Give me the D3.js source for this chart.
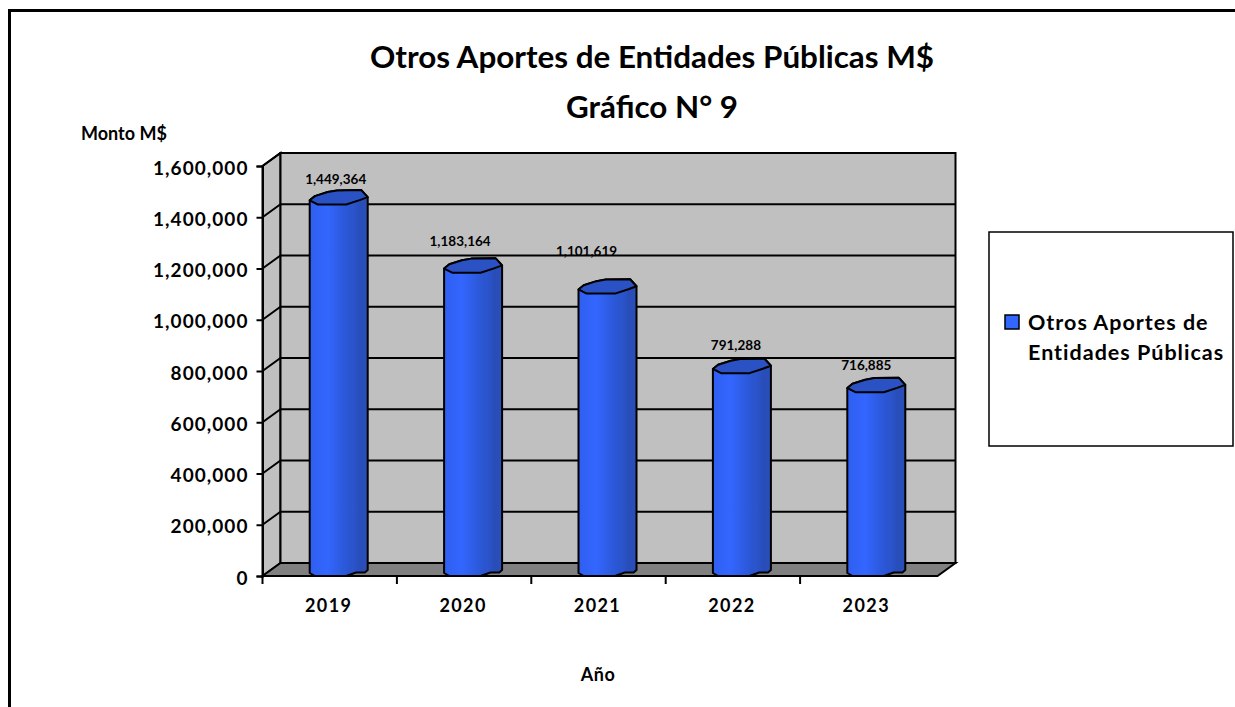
<!DOCTYPE html>
<html><head><meta charset="utf-8">
<script src="https://cdnjs.cloudflare.com/ajax/libs/d3/7.8.5/d3.min.js"></script>
<style>html,body{margin:0;padding:0;background:#fff}svg{display:block}
text{font-family:Lato,"Open Sans",sans-serif;font-weight:700;fill:#000}</style>
</head><body><svg id="c" width="1235" height="707"></svg>
<script>
const categories=["2019","2020","2021","2022","2023"];
const values=[1449364,1183164,1101619,791288,716885];
const valueLabels=["1,449,364","1,183,164","1,101,619","791,288","716,885"];
const yTicks=[0,200000,400000,600000,800000,1000000,1200000,1400000,1600000];
const titleLines=["Otros Aportes de Entidades Públicas M$","Gráfico N° 9"];
const legendLines=["Otros Aportes de","Entidades Públicas"];
const labelShiftX=[-3,-13,-21,-6,-10];
const labelRise=[6,12,23,9,8];

const svg=d3.select("#c");
const L=262.5,R=937.5,B=576,T=166,dx=18,dy=13;
const x=d3.scaleBand().domain(categories).range([L,L+672]);
const y=d3.scaleLinear().domain([0,1600000]).range([B,T]);

const defs=svg.append("defs");
const g=defs.append("linearGradient").attr("id","cyl");
[[0,"#2f5ff0"],[.3,"#3366ff"],[.55,"#2d5be0"],[.72,"#2a54cc"],[.73,"#2c55cf"],[.88,"#284db8"],[1,"#2a4fb8"]]
 .forEach(([o,c])=>g.append("stop").attr("offset",o).attr("stop-color",c));

svg.append("path").attr("d","M9.5,707V10.5H1235").attr("fill","none").attr("stroke","#000").attr("stroke-width",3);

const line=(a)=>"M"+a.map(p=>p.join(",")).join("L");
svg.append("path").attr("d",line([[L,T],[L+dx,T-dy],[L+dx,B-dy],[L,B]])+"Z").attr("fill","#c0c0c0").attr("stroke","#000").attr("stroke-width",2);
svg.append("path").attr("d",line([[L+dx,T-dy],[R+dx,T-dy],[R+dx,B-dy],[L+dx,B-dy]])+"Z").attr("fill","#c0c0c0").attr("stroke","#000").attr("stroke-width",2);
svg.append("path").attr("d",line([[L,B],[L+dx,B-dy],[R+dx,B-dy],[R,B]])+"Z").attr("fill","#808080").attr("stroke","#000").attr("stroke-width",2);

svg.append("g").selectAll("path").data(yTicks.slice(1)).join("path")
 .attr("d",d=>line([[L,y(d)],[L+dx,y(d)-dy],[R+dx,y(d)-dy]]))
 .attr("fill","none").attr("stroke","#000").attr("stroke-width",2);

const ay=svg.append("g").attr("transform",`translate(${L},0)`).call(d3.axisLeft(y).tickValues(yTicks).tickFormat(d3.format(",")).tickSize(6).tickPadding(8));
const ax=svg.append("g").attr("transform",`translate(0,${B})`).call(d3.axisBottom(x).tickSize(0));
ax.selectAll(".domain").remove();
ay.selectAll(".domain").attr("stroke","#000").attr("stroke-width",2);
ay.selectAll("line").attr("stroke","#000").attr("stroke-width",2);
ay.selectAll("text").attr("dy","0.43em").style("font-size","19px").style("letter-spacing","1.05px");
ax.selectAll("text").attr("dx",-1).attr("y",36).attr("dy",0).style("font-size","18px").style("letter-spacing","1.4px");
svg.append("g").selectAll("line").data(x.domain().map(d=>x(d))).join("line")
 .attr("x1",d=>d).attr("x2",d=>d).attr("y1",B).attr("y2",B+8).attr("stroke","#000").attr("stroke-width",2);

const capTop=[[0,.68],[.09,.4],[.31,.13],[.47,.02],[.89,0],[1,.47]];
const capBottom=[[1,.47],[.86,.67],[.63,.96],[.14,.96],[0,.68]];
const baseEdge=[[1,-6],[.95,-3.5],[.8,-3.5],[.63,0],[.09,0],[0,-3]];
const bw=58, capH=15;
const rows=categories.map((c,i)=>({c,v:values[i],l:valueLabels[i],sx:labelShiftX[i],r:labelRise[i]}));
svg.append("g").selectAll("g").data(rows).join("g").each(function(d){
  const sel=d3.select(this);
  const x0=x(d.c)+x.bandwidth()/2+dx/2-bw/2;
  const top=y(d.v)-capH+.5;
  const pt=(p)=>[x0+p[0]*bw,top+p[1]*capH];
  const ptBase=(p)=>[x0+p[0]*bw,B+p[1]];
  sel.append("path").attr("d",line(capTop.map(pt).concat(baseEdge.map(ptBase)))+"Z").attr("fill","url(#cyl)").attr("stroke","#000").attr("stroke-width",2).attr("stroke-linejoin","round");
  sel.append("path").attr("d",line([...capTop,...capBottom.slice(1)].map(pt))+"Z").attr("fill","#2a52c4").attr("stroke","#000").attr("stroke-width",2).attr("stroke-linejoin","round");
  sel.append("text").attr("x",x0+bw/2+d.sx).attr("y",top-d.r).attr("text-anchor","middle")
    .style("font-size","13.5px").text(d.l);
});

svg.append("g").selectAll("text").data(titleLines).join("text").attr("x",652).attr("y",(d,i)=>68+i*50)
 .attr("text-anchor","middle").style("font-size","31.4px").text(d=>d);
svg.append("text").attr("x",81).attr("y",140).style("font-size","18px").text("Monto M$");
svg.append("text").attr("x",598).attr("y",681).attr("text-anchor","middle").style("font-size","18px").style("letter-spacing","0.5px").text("Año");

svg.append("rect").attr("x",989).attr("y",232).attr("width",244).attr("height",214).attr("fill","#fff").attr("stroke","#000").attr("stroke-width",1.5);
svg.append("rect").attr("x",1005).attr("y",315).attr("width",14).attr("height",14).attr("fill","#3366ff").attr("stroke","#000").attr("stroke-width",1.5);
svg.append("g").selectAll("text").data(legendLines).join("text").attr("x",1028).attr("y",(d,i)=>330+i*30)
 .style("font-size","21.5px").style("letter-spacing","1px").text(d=>d);
</script></body></html>
